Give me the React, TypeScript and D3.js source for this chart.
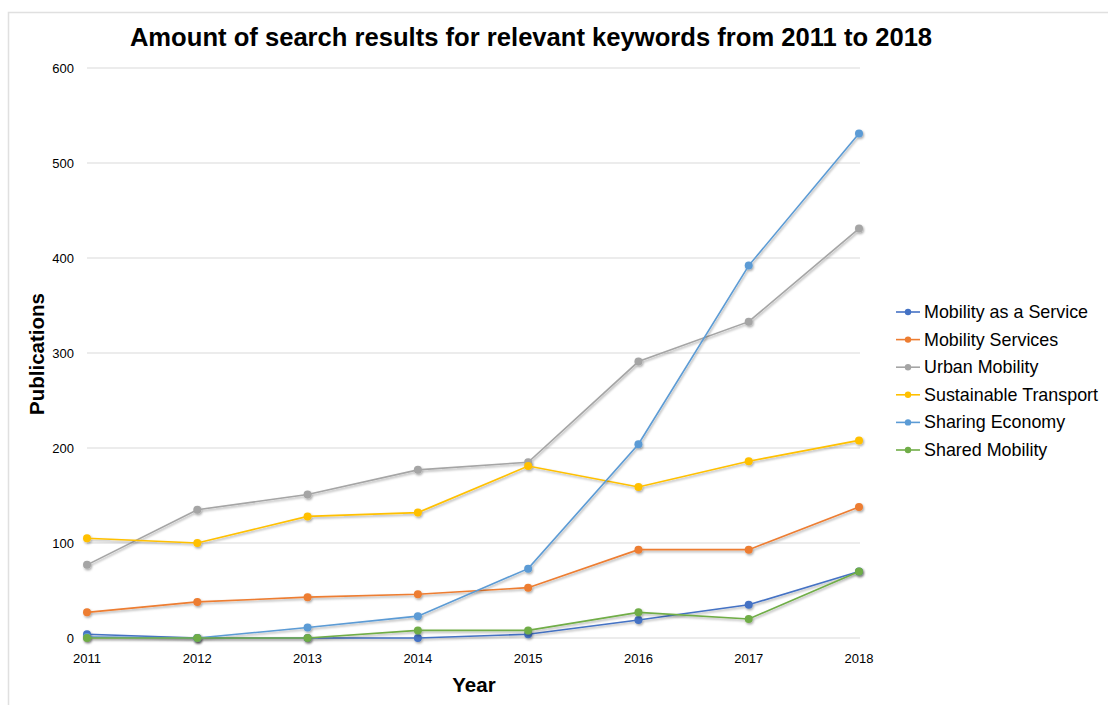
import React from "react";
import * as d3 from "d3";

const years = [2011, 2012, 2013, 2014, 2015, 2016, 2017, 2018];
const yTicks = [0, 100, 200, 300, 400, 500, 600];

const seriesNames = [
  "Mobility as a Service",
  "Mobility Services",
  "Urban Mobility",
  "Sustainable Transport",
  "Sharing Economy",
  "Shared Mobility",
];
const seriesColors = ["#4472C4", "#ED7D31", "#A5A5A5", "#FFC000", "#5B9BD5", "#70AD47"];

const mobilityAsAService = [4, 0, 0, 0, 4, 19, 35, 70];
const mobilityServices = [27, 38, 43, 46, 53, 93, 93, 138];
const urbanMobility = [77, 135, 151, 177, 185, 291, 333, 431];
const sustainableTransport = [105, 100, 128, 132, 181, 159, 186, 208];
const sharingEconomy = [1, 0, 11, 23, 73, 204, 392, 531];
const sharedMobility = [0, 0, 0, 8, 8, 27, 20, 70];

const seriesValues = [
  mobilityAsAService,
  mobilityServices,
  urbanMobility,
  sustainableTransport,
  sharingEconomy,
  sharedMobility,
];

const W = 1108;
const H = 705;
const left = 87;
const right = 859;
const top = 68;
const bottom = 638;

export default function App() {
  const x = d3.scaleLinear().domain([2011, 2018]).range([left, right]);
  const y = d3.scaleLinear().domain([0, 600]).range([bottom, top]);
  const line = d3
    .line<number>()
    .x((_, i) => x(years[i]))
    .y((v) => y(v));

  const font = "'Liberation Sans', Arial, sans-serif";

  return (
    <svg
      width={W}
      height={H}
      style={{ position: "absolute", left: 0, top: 0, background: "#fff" }}
      fontFamily={font}
    >
      <defs>
        <filter id="sh" x="-50%" y="-50%" width="200%" height="200%">
          <feDropShadow dx="1" dy="1.5" stdDeviation="1.2" floodColor="#000" floodOpacity="0.35" />
        </filter>
      </defs>
      <rect x={0} y={0} width={W} height={H} fill="#fff" />
      <rect x={8.5} y={12.5} width={W + 10} height={H + 10} fill="none" stroke="#e0e0e0" strokeWidth={1.5} />

      <text x={531} y={46} textAnchor="middle" fontSize={25.6} fontWeight="bold" fill="#000">
        Amount of search results for relevant keywords from 2011 to 2018
      </text>

      {yTicks.map((t) => (
        <g key={t}>
          <line x1={left} x2={right + 1} y1={y(t)} y2={y(t)} stroke="#d9d9d9" strokeWidth={1} />
          <text x={74} y={y(t) + 4.5} textAnchor="end" fontSize={13} fill="#000">
            {t}
          </text>
        </g>
      ))}

      {years.map((yr) => (
        <text key={yr} x={x(yr)} y={663} textAnchor="middle" fontSize={13} fill="#000">
          {yr}
        </text>
      ))}

      <text x={474} y={692} textAnchor="middle" fontSize={20.5} fontWeight="bold" fill="#000">
        Year
      </text>
      <text
        transform={`translate(44,354) rotate(-90)`}
        textAnchor="middle"
        fontSize={20.5}
        fontWeight="bold"
        fill="#000"
      >
        Publications
      </text>

      {seriesValues.map((vals, si) => (
        <g key={si} filter="url(#sh)">
          <path d={line(vals) || ""} fill="none" stroke={seriesColors[si]} strokeWidth={1.6} />
          {vals.map((v, i) => (
            <circle key={i} cx={x(years[i])} cy={y(v)} r={4} fill={seriesColors[si]} />
          ))}
        </g>
      ))}

      {seriesNames.map((n, i) => {
        const ly = 312 + i * 27.6;
        return (
          <g key={n}>
            <line x1={896} x2={920} y1={ly} y2={ly} stroke={seriesColors[i]} strokeWidth={1.6} />
            <circle cx={908} cy={ly} r={3.2} fill={seriesColors[i]} />
            <text x={924} y={ly + 6} fontSize={17.9} fill="#000">
              {n}
            </text>
          </g>
        );
      })}
    </svg>
  );
}
